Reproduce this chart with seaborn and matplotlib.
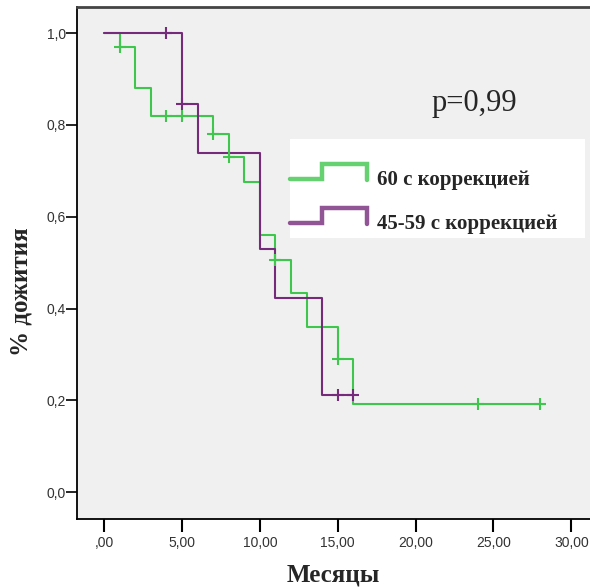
import numpy as np
import pandas as pd
import matplotlib
matplotlib.use('Agg')
import matplotlib.pyplot as plt
from matplotlib.legend_handler import HandlerBase
from matplotlib.lines import Line2D
from matplotlib.patches import Rectangle
import seaborn as sns

# Kaplan-Meier steps
green_t = [0, 1, 2, 3, 7, 8, 9, 10, 11, 12, 13, 15, 16, 28]
green_s = [1.0, 0.97, 0.88, 0.82, 0.78, 0.73, 0.675, 0.56, 0.505, 0.435, 0.36, 0.29, 0.193, 0.193]
green_cens = [1, 4, 5, 7, 8, 11, 15, 24, 28]

purple_t = [0, 5, 6, 10, 11, 14, 16]
purple_s = [1.0, 0.846, 0.74, 0.53, 0.423, 0.212, 0.212]
purple_cens = [4, 5, 15, 16]

labels = ['60 с коррекцией', '45-59 с коррекцией']
colors = ['#3fc64c', '#762a7b']
xticks = [0, 5, 10, 15, 20, 25, 30]
yticks = [0.0, 0.2, 0.4, 0.6, 0.8, 1.0]


def step_at(t, s, c):
    idx = np.searchsorted(t, c, side='right') - 1
    return np.array(s)[idx]


curves = pd.concat([
    pd.DataFrame({'t': green_t, 's': green_s, 'grp': labels[0]}),
    pd.DataFrame({'t': purple_t, 's': purple_s, 'grp': labels[1]}),
])
cens = pd.concat([
    pd.DataFrame({'t': green_cens, 's': step_at(green_t, green_s, green_cens), 'grp': labels[0]}),
    pd.DataFrame({'t': purple_cens, 's': step_at(purple_t, purple_s, purple_cens), 'grp': labels[1]}),
])

sns.set_style('white')
plt.rcParams['font.family'] = ['Liberation Sans', 'DejaVu Sans']

fig = plt.figure(figsize=(5.9, 5.88), dpi=100)
ax = fig.add_axes([0.1305, 0.117, 0.8695, 0.871])
ax.set_facecolor('#f0f0f0')

pal = dict(zip(labels, colors))
for g in labels:
    sub = curves[curves.grp == g]
    sns.lineplot(data=sub, x='t', y='s', color=pal[g], drawstyle='steps-post',
                 linewidth=1.5, ax=ax, legend=False, estimator=None, sort=False)
    sc = cens[cens.grp == g]
    sns.scatterplot(data=sc, x='t', y='s', color=pal[g], marker='+', s=70,
                    linewidth=1.5, ax=ax, legend=False, zorder=3)

ax.set_xlim(-1.74, 31.2)
ax.set_ylim(-0.059, 1.057)
ax.set_xticks(xticks)
ax.set_xticklabels([',00' if v == 0 else f'{v},00' for v in xticks])
ax.set_yticks(yticks)
ax.set_yticklabels([f'{v:.1f}'.replace('.', ',') for v in yticks])
ax.tick_params(axis='x', length=9, width=1.5, color='black', labelsize=10,
               labelcolor='#333333', pad=3, direction='out', bottom=True)
ax.tick_params(axis='y', length=8, width=1.2, color='black', labelsize=10,
               labelcolor='#333333', pad=0, direction='out', left=True)

for side in ['left', 'bottom']:
    ax.spines[side].set_color('black')
    ax.spines[side].set_linewidth(1.3)
ax.spines['top'].set_color('#444444')
ax.spines['top'].set_linewidth(2)
ax.spines['right'].set_visible(False)

ax.set_xlabel('Месяцы', family='Liberation Serif', fontweight='bold', fontsize=18, labelpad=10)
ax.set_ylabel('% дожития', family='Liberation Serif', fontweight='bold', fontsize=18)
ax.yaxis.set_label_coords(-0.086, 0.444)

ax.text(0.774, 0.812, 'p=0,99', transform=ax.transAxes, family='Liberation Serif',
        fontsize=22, ha='center', va='center')

# white legend panel
ax.add_patch(Rectangle((0.415, 0.550), 0.575, 0.192, transform=ax.transAxes,
                       facecolor='white', edgecolor='none', zorder=4))


class StepHandler(HandlerBase):
    def create_artists(self, legend, orig_handle, xdescent, ydescent, width, height, fontsize, trans):
        x0 = -xdescent
        y0 = -ydescent
        lo = y0 + 0.45 * height
        hi = y0 + 1.45 * height
        xs = [x0, x0 + 0.42 * width, x0 + 0.42 * width, x0 + width, x0 + width]
        ys = [lo, lo, hi, hi, lo - 0.1 * height]
        ln = Line2D(xs, ys, color=orig_handle.get_color(), linewidth=3.2, alpha=0.8,
                    solid_joinstyle='miter', transform=trans)
        return [ln]


handles = [Line2D([], [], color=c) for c in colors]
leg = ax.legend(handles, labels, handler_map={Line2D: StepHandler()},
                loc='upper left', bbox_to_anchor=(0.415, 0.681),
                prop={'family': 'Liberation Serif', 'weight': 'bold', 'size': 15},
                frameon=False, borderpad=0, labelspacing=1.15,
                handlelength=3.7, handletextpad=0.5, borderaxespad=0)
leg.set_zorder(5)

fig.savefig('out.png', dpi=100, facecolor='white')
